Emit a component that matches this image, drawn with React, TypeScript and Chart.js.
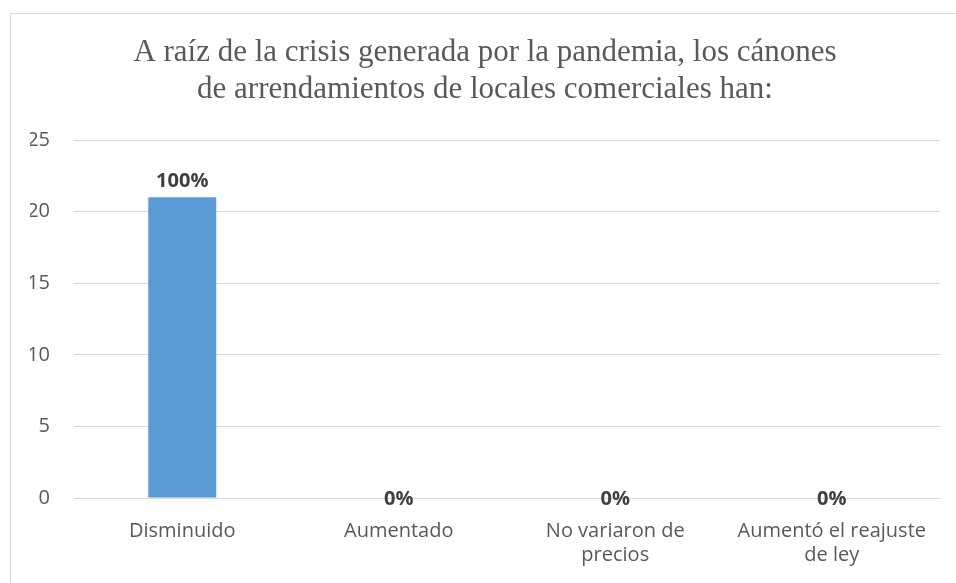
import React, { useEffect, useRef } from "react";
import { Chart, registerables } from "chart.js";

Chart.register(...registerables);

const titleLines = [
  "A raíz de la crisis generada por la pandemia, los cánones",
  "de arrendamientos de locales comerciales han:",
];
const categories: (string | string[])[] = [
  "Disminuido",
  "Aumentado",
  ["No variaron de", "precios"],
  ["Aumentó el reajuste", "de ley"],
];
const counts = [21, 0, 0, 0];
const percentLabels = ["100%", "0%", "0%", "0%"];
const yMin = 0;
const yMax = 25;
const yStep = 5;

const SANS = "'Open Sans', 'Noto Sans', sans-serif";

const valueLabelPlugin = {
  id: "valueLabels",
  afterDatasetsDraw(chart: any) {
    const ctx = chart.ctx;
    const meta = chart.getDatasetMeta(0);
    ctx.save();
    ctx.font = `bold 20px ${SANS}`;
    ctx.fillStyle = "#404040";
    ctx.textAlign = "center";
    ctx.textBaseline = "middle";
    meta.data.forEach((bar: any, i: number) => {
      const v = counts[i];
      const y = v === 0 ? bar.y + 1 : bar.y - 16;
      ctx.fillText(percentLabels[i], bar.x, y);
    });
    ctx.restore();
  },
};

export default function App() {
  const ref = useRef<HTMLCanvasElement | null>(null);
  useEffect(() => {
    document.body.style.margin = "0";
    document.body.style.overflow = "hidden";
    if (!ref.current) return;
    const chart = new Chart(ref.current, {
      type: "bar",
      data: {
        labels: categories,
        datasets: [
          {
            data: counts,
            backgroundColor: "#5b9bd5",
            borderWidth: 0,
            categoryPercentage: 1,
            barPercentage: 0.314,
          },
        ],
      },
      options: {
        animation: false,
        responsive: false,
        maintainAspectRatio: false,
        layout: { padding: { top: 34, left: 30, right: 16, bottom: 0 } },
        plugins: {
          legend: { display: false },
          tooltip: { enabled: false },
          title: {
            display: true,
            text: titleLines,
            color: "#595959",
            font: { family: "'Liberation Serif', 'Times New Roman', serif", size: 31, weight: "normal", lineHeight: 37 / 31 },
            padding: { top: 0, bottom: 32 },
          },
        },
        scales: {
          x: {
            grid: { display: false, drawTicks: false },
            border: { display: true, color: "#d9d9d9", width: 1 },
            ticks: {
              color: "#595959",
              font: { family: SANS, size: 20, lineHeight: 1.2 },
              padding: 21,
              maxRotation: 0,
              autoSkip: false,
            },
            afterFit: (s: any) => {
              s.height = 85;
            },
          },
          y: {
            min: yMin,
            max: yMax,
            grid: { color: "#d9d9d9", drawTicks: false },
            border: { display: false },
            ticks: {
              stepSize: yStep,
              color: "#595959",
              font: { family: SANS, size: 20 },
              padding: 24,
            },
            afterFit: (s: any) => {
              s.width = 44;
            },
          },
        },
      },
      plugins: [valueLabelPlugin],
    });
    return () => chart.destroy();
  }, []);

  return (
    <div style={{ position: "fixed", left: 0, top: 0, width: 956, height: 583, overflow: "hidden", background: "#fff" }}>
      <div
        style={{
          position: "absolute",
          left: 10,
          top: 13,
          width: 1000,
          height: 1000,
          border: "1px solid #d9d9d9",
          boxSizing: "border-box",
        }}
      />
      <canvas ref={ref} width={956} height={583} style={{ position: "absolute", left: 0, top: 0 }} />
    </div>
  );
}
